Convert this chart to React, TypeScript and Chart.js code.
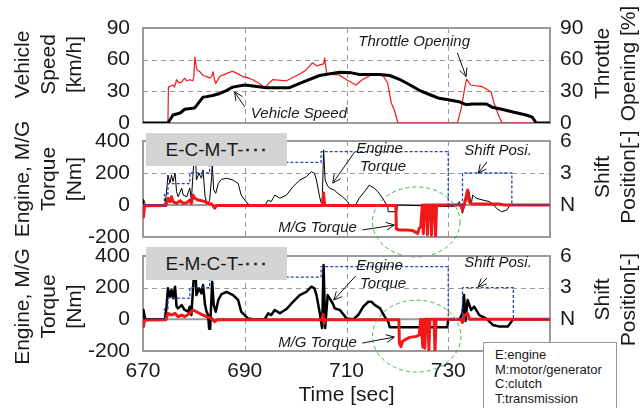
import React, { useEffect, useRef } from 'react';
import { Chart, registerables } from 'chart.js';

Chart.register(...registerables);

type P = [number, number];

// ---------- axis ticks ----------
const timeTicks = [670, 690, 710, 730, 750];
const timeTickLabels = ['670', '690', '710', '730', ''];
const speedTicks = [0, 30, 60, 90];
const throttleTicks = [0, 30, 60, 90];
const torqueTicks = [-200, 0, 200, 400];
const shiftTicks = [0, 3, 6];
const shiftTickLabels = ['N', '3', '6'];

// ---------- top panel ----------
const vehicleSpeed: P[] = [
  [670, 0], [674.9, 0], [675.9, 7.6], [677.3, 9.5], [678.2, 13], [679.8, 14], [680.2, 14.5],
  [681.8, 24.5], [682.5, 25], [683.7, 26], [685.1, 28], [686.5, 31], [687.6, 34], [690, 36],
  [691.6, 35], [694.3, 33.5], [698.8, 33.5], [700.8, 37.5], [704.7, 45], [708.6, 48], [711, 47.5],
  [712.5, 46], [716.5, 46], [718.5, 45], [720.4, 41.4], [722.5, 36], [724.3, 31], [726.3, 27],
  [728.2, 23.4], [730, 22], [732.1, 20.2], [733.5, 17.5], [735, 18], [737.5, 18], [738.6, 15],
  [740.5, 13], [742.5, 10.7], [745.3, 7.6], [746.5, 5.5], [747.3, 0], [750, 0],
];

const throttleOpening: P[] = [
  [670, 0], [674.9, 0], [675.0, 34], [675.5, 35], [675.9, 36], [676.2, 34], [676.6, 41], [677.1, 38],
  [677.6, 39], [678.2, 42.5], [678.6, 40], [679.2, 41], [679.8, 40], [680.0, 45], [680.2, 62.5],
  [680.5, 52], [680.7, 50], [681.2, 48.5], [681.8, 45], [682.5, 44], [683.1, 42.5], [683.5, 44],
  [683.8, 48.5], [684.1, 40], [684.3, 37.5], [685.1, 44], [686.5, 47], [687.6, 49], [688.5, 47],
  [689.6, 44], [690.5, 43], [691.6, 41], [693, 37], [694, 33.5], [694.8, 38], [695.5, 41],
  [698.2, 40], [700.8, 46.5], [702, 50], [703.3, 57], [704.2, 54], [704.7, 55], [705.5, 56],
  [705.7, 61.5], [706.1, 47], [707, 46], [708.6, 45.5], [710, 41], [711.9, 36], [713.1, 41],
  [715.2, 46.4], [717.1, 45.5], [718.1, 37.6], [718.8, 19], [719.4, 12.3], [720.1, 0],
  [731.8, 0], [732.6, 15], [733.3, 35], [733.6, 41.5], [734.4, 36], [736.7, 34.4], [738.4, 29.7],
  [739, 19], [740, 6], [740.6, 0], [750, 0],
];

// ---------- E-C-M-T panel ----------
const engineTorqueECMT: P[] = [
  [670, 0], [670.1, 35], [670.3, 20], [670.5, 0], [674.3, 0], [674.6, 73], [674.9, 187], [675.3, 137],
  [675.6, 187], [675.9, 146], [676.3, 200], [676.6, 83], [676.9, 52], [677.6, 106], [677.9, 62],
  [678.6, 52], [679.2, 106], [679.5, 31], [679.8, 177], [680.1, 330], [680.3, 340], [680.5, 156],
  [681, 198], [681.5, 167], [681.8, 219], [682.2, 52], [682.5, 21], [682.8, 10], [683.1, 31],
  [683.5, 177], [683.6, 260], [683.9, 94], [684.3, 73], [684.8, 135], [685.4, 160], [686.4, 167],
  [687.7, 156], [688.7, 135], [689.3, 62], [690, 31], [690.6, 6], [691.6, 0], [693, -10],
  [693.9, -6], [694.6, 31], [695.2, 21], [695.9, 62], [696.9, 42], [698.2, 62], [699.5, 115],
  [700.8, 156], [702.1, 177], [703.1, 208], [703.7, 198], [704.1, 156], [704.7, 52], [705.2, -6],
  [705.5, 345], [705.8, 156], [706.2, 125], [706.7, 104], [707.6, 94], [708.2, 75], [709.2, 52],
  [710.2, 21], [710.6, 0], [711.6, -10], [712.5, 42], [713.8, 94], [714.5, 125], [714.8, 118],
  [715.5, 104], [716.2, 83], [717.1, 42], [717.8, 6], [718.1, -6], [718.2, -42], [719.9, -42],
  [720, 0], [730.5, -10], [731.5, -5], [732.2, 21], [732.8, -52], [733.5, 31], [734.1, 83],
  [734.5, 0], [734.8, 62], [735.5, 42], [736.8, 31], [738.1, 21], [738.8, 6], [739.5, -21],
  [740.5, -42], [741.5, -31], [742.2, 0], [750, 0],
];

const mgTorqueECMT: P[] = [
  [670, -5], [670.1, -75], [670.3, -5], [674.5, -3], [674.9, 42], [675.3, 21], [675.6, 52],
  [675.9, 21], [676.6, 10], [677.3, 27], [677.9, 10], [678.6, 15], [679.2, 31], [679.5, 10],
  [679.8, 62], [680.2, 42], [680.8, 31], [681.5, 27], [682.2, 21], [682.8, 10], [683.5, 6],
  [684.1, -19], [684.5, -3], [705.3, -3], [705.5, 75], [705.7, -3], [719.7, -3], [719.8, -150],
  [720.4, -156], [721.7, -156], [723, -160], [724, -177], [724.3, -146], [724.6, -135],
  [724.9, 0], [725.1, -180], [725.3, 0], [725.7, 0], [725.9, -185], [726.1, 0], [726.5, 0],
  [726.7, -190], [726.9, 0], [727.3, 0], [727.5, -200], [727.7, 0],
  [732.5, 0], [732.8, -31], [733.3, 20], [733.8, 94], [734.1, 21], [734.6, 6],
  [740, 6], [741, 0], [750, 0],
];

const shiftPosECMT: P[] = [
  [670, 0], [674.2, 0], [674.2, 1], [674.9, 1], [674.9, 2], [679.2, 2], [679.2, 3], [683.1, 3],
  [683.1, 4], [705, 4], [705, 5], [730, 5], [730, 0], [732.8, 0], [732.8, 3], [742.5, 3],
  [742.5, 0], [750, 0],
];

// ---------- E-M-C-T panel ----------
const engineTorqueEMCT: P[] = [
  [670, 0], [670.1, 59], [670.3, 20], [670.5, 0], [674.3, 0], [674.6, 69], [674.9, 196], [675.3, 143],
  [675.6, 185], [675.9, 133], [676.3, 206], [676.6, 80], [676.9, 69], [677.6, 90], [678.2, 59],
  [678.9, 48], [679.2, 80], [679.5, 27], [679.8, 174], [680.1, 330], [680.3, 343], [680.5, 153],
  [681, 196], [681.5, 164], [681.8, 217], [682.2, 90], [682.5, 48], [682.8, 27], [683.0, -60],
  [683.2, -60], [683.4, 100], [683.6, 238], [683.9, 90], [684.3, 48], [684.8, 122], [685.4, 158],
  [686.4, 174], [687.7, 153], [688.7, 122], [689.3, 48], [690, 27], [690.6, 6], [691.6, 0],
  [693.9, 0], [694.6, 38], [695.2, 27], [695.9, 59], [696.9, 38], [698.2, 65], [699.5, 111],
  [700.8, 153], [702.1, 174], [703.1, 206], [703.7, 196], [704.1, 153], [704.7, 48], [705.2, -55],
  [705.5, 343], [705.8, -55], [706.3, 153], [707.3, 100], [707.7, 69], [708.7, 59], [710, 6],
  [711.3, 0], [712.3, 27], [713.3, 80], [714.3, 111], [714.9, 111], [715.6, 90], [716.6, 69],
  [717.5, 17], [718.2, -15], [718.5, -50], [729.8, -50], [730, 0], [732.2, 0], [732.8, 38],
  [733.1, 153], [733.4, -10], [733.8, 122], [734.5, 59], [735.1, 80], [736.1, 27], [737.4, 6],
  [738.1, -15], [738.8, -36], [740.1, -46], [741.7, -46], [742.4, -15], [742.7, 0], [750, 0],
];

const mgTorqueEMCT: P[] = [
  [670, -5], [670.1, -46], [670.3, -5], [674.5, -3], [674.9, 38], [675.6, 27], [676.3, 38],
  [676.9, 17], [677.6, 27], [678.2, 17], [679.2, 38], [679.8, 59], [680.5, 48], [681.5, 31],
  [682.5, 17], [683.5, 6], [684.1, -15], [684.5, -3], [705.2, -3], [705.4, 30], [705.6, -25],
  [705.8, -3], [720.3, -3], [720.4, -152], [720.7, -173], [721, -140], [721.4, -131],
  [722.4, -114], [723.7, -108], [724.3, -99], [724.6, 0], [725.0, -175], [725.2, 0],
  [725.4, -183], [725.6, 0], [726.0, 0], [726.2, -194], [726.4, 0], [727.2, 0], [727.4, -205],
  [727.6, 0], [732.5, 0], [732.8, -20], [733.2, 25], [733.8, 38], [734.2, 0], [750, 0],
];

const shiftPosEMCT: P[] = [
  [670, 0], [674.2, 0], [674.2, 1], [674.9, 1], [674.9, 2], [679.2, 2], [679.2, 3], [683.1, 3],
  [683.1, 4], [705, 4], [705, 5], [730, 5], [730, 0], [732.8, 0], [732.8, 3], [742.8, 3],
  [742.8, 0], [750, 0],
];

const legendLines = ['E:engine', 'M:motor/generator', 'C:clutch', 'T:transmission'];

// ---------- styling ----------
const FONT = "'Liberation Sans', Arial, Helvetica, sans-serif";
const TXT = '#1a1a1a';
const RED = '#f01818';
const BLUE = '#2448b0';
const GRID = '#9a9a9a';
const W = 641;
const H = 408;

const pts = (a: P[]) => a.map(([x, y]) => ({ x, y }));

type Note =
  | { kind: 'text'; t: number; v: number; text: string; align?: CanvasTextAlign }
  | { kind: 'arrow'; t1: number; v1: number; t2: number; v2: number }
  | { kind: 'ellipse'; t: number; v: number; rt: number; rv: number };

interface Decor {
  leftTitle: string[];
  leftShift: number;
  rightTitle: string[];
  rightShift: number;
  notes: Note[];
}

function drawRotatedLines(ctx: any, lines: string[], x0: number, step: number, cy: number) {
  ctx.save();
  ctx.font = `21px ${FONT}`;
  ctx.fillStyle = TXT;
  ctx.textAlign = 'center';
  ctx.textBaseline = 'middle';
  lines.forEach((line, i) => {
    ctx.save();
    ctx.translate(x0 + i * step, cy);
    ctx.rotate(-Math.PI / 2);
    ctx.fillText(line, 0, 0);
    ctx.restore();
  });
  ctx.restore();
}

function decorPlugin(d: Decor) {
  return {
    id: 'decor',
    beforeDatasetsDraw(chart: any) {
      const { ctx, chartArea: a } = chart;
      const xs = chart.scales.x;
      const ys = chart.scales.y;
      ctx.save();
      ctx.strokeStyle = GRID;
      ctx.lineWidth = 1;
      ctx.setLineDash([5, 4]);
      ctx.beginPath();
      for (const t of xs.ticks) {
        const x = Math.round(xs.getPixelForValue(t.value)) + 0.5;
        if (x <= a.left + 2 || x >= a.right - 2) continue;
        ctx.moveTo(x, a.top);
        ctx.lineTo(x, a.bottom);
      }
      for (const t of ys.ticks) {
        const y = Math.round(ys.getPixelForValue(t.value)) + 0.5;
        if (y <= a.top + 2 || y >= a.bottom - 2) continue;
        ctx.moveTo(a.left, y);
        ctx.lineTo(a.right, y);
      }
      ctx.stroke();
      ctx.strokeStyle = GRID;
      ctx.lineWidth = 2;
      ctx.setLineDash([]);
      ctx.strokeRect(a.left, a.top, a.right - a.left, a.bottom - a.top);
      ctx.restore();
    },
    afterDatasetsDraw(chart: any) {
      const { ctx } = chart;
      const xs = chart.scales.x;
      const ys = chart.scales.y;
      const px = (t: number) => xs.getPixelForValue(t);
      const py = (v: number) => ys.getPixelForValue(v);
      ctx.save();
      for (const n of d.notes) {
        if (n.kind === 'text') {
          ctx.font = `italic 15px ${FONT}`;
          ctx.fillStyle = TXT;
          ctx.textAlign = n.align || 'center';
          ctx.textBaseline = 'middle';
          ctx.fillText(n.text, px(n.t), py(n.v));
        } else if (n.kind === 'arrow') {
          const x1 = px(n.t1), y1 = py(n.v1), x2 = px(n.t2), y2 = py(n.v2);
          ctx.strokeStyle = '#111';
          ctx.lineWidth = 1;
          ctx.setLineDash([]);
          ctx.beginPath();
          ctx.moveTo(x1, y1);
          ctx.lineTo(x2, y2);
          const ang = Math.atan2(y2 - y1, x2 - x1);
          const L = 9;
          for (const s of [-1, 1]) {
            ctx.moveTo(x2, y2);
            ctx.lineTo(x2 - L * Math.cos(ang + s * 0.45), y2 - L * Math.sin(ang + s * 0.45));
          }
          ctx.stroke();
        } else if (n.kind === 'ellipse') {
          const cx = px(n.t), cy = py(n.v);
          const rx = Math.abs(px(n.t + n.rt) - cx);
          const ry = Math.abs(py(n.v + n.rv) - cy);
          ctx.strokeStyle = '#3cb83c';
          ctx.lineWidth = 1;
          ctx.setLineDash([4, 3]);
          ctx.beginPath();
          ctx.ellipse(cx, cy, rx, ry, 0, 0, Math.PI * 2);
          ctx.stroke();
        }
      }
      ctx.restore();
    },
    afterDraw(chart: any) {
      const { ctx, chartArea: a } = chart;
      const mid = (a.top + a.bottom) / 2;
      drawRotatedLines(ctx, d.leftTitle, a.left - 119.5, 25.8, mid + d.leftShift);
      drawRotatedLines(ctx, d.rightTitle, a.right + 53, 26, mid + d.rightShift);
    },
  };
}

const tickFont = { family: FONT, size: 21 };

function xScale(showLabels: boolean) {
  return {
    type: 'linear',
    min: 670,
    max: 750,
    afterBuildTicks: (s: any) => {
      s.ticks = timeTicks.map((v) => ({ value: v }));
    },
    grid: { display: false, drawTicks: false },
    border: { display: false },
    ticks: {
      display: showLabels,
      color: TXT,
      font: tickFont,
      padding: 8,
      maxRotation: 0,
      autoSkip: false,
      callback: (v: any) => {
        const i = timeTicks.indexOf(Number(v));
        return i >= 0 ? timeTickLabels[i] : '';
      },
    },
    title: { display: showLabels, text: 'Time [sec]', color: TXT, font: tickFont, padding: 0 },
    afterFit: (s: any) => {
      s.height = showLabels ? 57 : 0;
    },
  };
}

function yLeft(min: number, max: number, ticks: number[]) {
  return {
    position: 'left',
    min,
    max,
    afterBuildTicks: (s: any) => {
      s.ticks = ticks.map((v) => ({ value: v }));
    },
    grid: { display: false, drawTicks: false },
    border: { display: false },
    ticks: { color: TXT, font: tickFont, padding: 13, autoSkip: false },
    afterFit: (s: any) => {
      s.width = 143;
    },
  };
}

function yRight(min: number, max: number, ticks: number[], labels?: string[]) {
  return {
    position: 'right',
    min,
    max,
    afterBuildTicks: (s: any) => {
      s.ticks = ticks.map((v) => ({ value: v }));
    },
    grid: { display: false, drawTicks: false },
    border: { display: false },
    ticks: {
      color: TXT,
      font: tickFont,
      padding: 10,
      autoSkip: false,
      callback: (v: any) => {
        const i = ticks.indexOf(Number(v));
        return labels && i >= 0 ? labels[i] : String(v);
      },
    },
    afterFit: (s: any) => {
      s.width = 91;
    },
  };
}

const lineDefaults = { pointRadius: 0, tension: 0, fill: false, borderJoinStyle: 'round' };

function baseOptions(padTop: number, padBottom: number, scales: any) {
  return {
    responsive: false,
    animation: false,
    events: [],
    layout: { padding: { top: padTop, bottom: padBottom, left: 0, right: 0 } },
    plugins: { legend: { display: false }, tooltip: { enabled: false } },
    scales,
  };
}

function speedConfig() {
  return {
    type: 'line',
    data: {
      datasets: [
        { ...lineDefaults, label: 'Vehicle Speed', data: pts(vehicleSpeed), borderColor: '#000', borderWidth: 3, yAxisID: 'y' },
        { ...lineDefaults, label: 'Throttle Opening', data: pts(throttleOpening), borderColor: RED, borderWidth: 1.2, yAxisID: 'y2' },
      ],
    },
    options: baseOptions(28, 285, {
      x: xScale(false),
      y: yLeft(0, 90, speedTicks),
      y2: yRight(0, 90, throttleTicks),
    }),
    plugins: [
      decorPlugin({
        leftTitle: ['Vehicle', 'Speed', '[km/h]'],
        leftShift: -11,
        rightTitle: ['Throttle', 'Opening [%]'],
        rightShift: -12,
        notes: [
          { kind: 'text', t: 723.3, v: 76.7, text: 'Throttle Opening' },
          { kind: 'arrow', t1: 731.8, v1: 66.3, t2: 733.5, v2: 44 },
          { kind: 'text', t: 691.2, v: 8.5, text: 'Vehicle Speed', align: 'left' },
          { kind: 'arrow', t1: 690, v1: 15.2, t2: 688, v2: 29.4 },
        ],
      }),
    ],
  };
}

function torqueConfig(
  engine: P[],
  mg: P[],
  shift: P[],
  engineWidth: number,
  padTop: number,
  padBottom: number,
  showX: boolean,
  leftShift: number,
  rightShift: number,
  notes: Note[],
) {
  return {
    type: 'line',
    data: {
      datasets: [
        { ...lineDefaults, label: 'Shift Position', data: pts(shift), borderColor: BLUE, borderWidth: 1.3, borderDash: [3, 2], yAxisID: 'y2' },
        { ...lineDefaults, label: 'M/G Torque', data: pts(mg), borderColor: RED, borderWidth: 3, yAxisID: 'y' },
        { ...lineDefaults, label: 'Engine Torque', data: pts(engine), borderColor: '#000', borderWidth: engineWidth, yAxisID: 'y' },
        { ...lineDefaults, label: 'zero', data: [{ x: 670, y: 0 }, { x: 750, y: 0 }], borderColor: GRID, borderWidth: 2, yAxisID: 'y' },
      ],
    },
    options: baseOptions(padTop, padBottom, {
      x: xScale(showX),
      y: yLeft(-200, 400, torqueTicks),
      y2: yRight(-3, 6, shiftTicks, shiftTickLabels),
    }),
    plugins: [
      decorPlugin({
        leftTitle: ['Engine, M/G', 'Torque', '[Nm]'],
        leftShift,
        rightTitle: ['Shift', 'Position[-]'],
        rightShift,
        notes,
      }),
    ],
  };
}

function ChartLayer({ build }: { build: () => any }) {
  const ref = useRef<HTMLCanvasElement>(null);
  useEffect(() => {
    if (!ref.current) return;
    const chart = new Chart(ref.current, build());
    return () => chart.destroy();
  }, [build]);
  return (
    <canvas
      ref={ref}
      width={W}
      height={H}
      style={{ position: 'absolute', left: 0, top: 0, width: W, height: H }}
    />
  );
}

const buildSpeed = () => speedConfig();
const buildECMT = () =>
  torqueConfig(engineTorqueECMT, mgTorqueECMT, shiftPosECMT, 1, 141, 171, false, -10, -12, [
    { kind: 'text', t: 716.5, v: 350, text: 'Engine' },
    { kind: 'text', t: 717.2, v: 237, text: 'Torque' },
    { kind: 'arrow', t1: 711.6, v1: 331, t2: 707.3, v2: 137 },
    { kind: 'text', t: 739.8, v: 337, text: 'Shift Posi.' },
    { kind: 'arrow', t1: 737.6, v1: 269, t2: 735.9, v2: 200 },
    { kind: 'text', t: 704.3, v: -144, text: 'M/G Torque' },
    { kind: 'arrow', t1: 713.1, v1: -156, t2: 719.4, v2: -125 },
    { kind: 'ellipse', t: 723.7, v: -106, rt: 8.6, rv: 219 },
  ]);
const buildEMCT = () =>
  torqueConfig(engineTorqueEMCT, mgTorqueEMCT, shiftPosEMCT, 2.5, 256, 0, true, 3, -4, [
    { kind: 'text', t: 716.5, v: 337, text: 'Engine' },
    { kind: 'text', t: 717.2, v: 223, text: 'Torque' },
    { kind: 'arrow', t1: 711.8, v1: 274, t2: 707.5, v2: 122 },
    { kind: 'text', t: 739.8, v: 356, text: 'Shift Posi.' },
    { kind: 'arrow', t1: 737.6, v1: 261, t2: 735.9, v2: 204 },
    { kind: 'text', t: 704.3, v: -150, text: 'M/G Torque' },
    { kind: 'arrow', t1: 713.1, v1: -150, t2: 719.4, v2: -112 },
    { kind: 'ellipse', t: 723.8, v: -106, rt: 8.7, rv: 227 },
  ]);

function SchemeLabel({ top, text }: { top: number; text: string }) {
  return (
    <div
      style={{
        position: 'absolute',
        left: 146,
        top,
        width: 141,
        height: 33,
        background: '#d4d4d4',
        display: 'flex',
        alignItems: 'center',
        justifyContent: 'center',
        fontFamily: FONT,
        fontSize: 19,
        color: TXT,
        whiteSpace: 'nowrap',
      }}
    >
      {text}
      <span style={{ fontSize: 14, fontWeight: 'bold', letterSpacing: 1 }}>･･･</span>
    </div>
  );
}

export default function App() {
  return (
    <div
      style={{
        position: 'fixed',
        left: 0,
        top: 0,
        width: W,
        height: H,
        overflow: 'hidden',
        background: '#fff',
      }}
    >
      <ChartLayer build={buildSpeed} />
      <ChartLayer build={buildECMT} />
      <ChartLayer build={buildEMCT} />
      <SchemeLabel top={133} text="E-C-M-T-" />
      <SchemeLabel top={247} text="E-M-C-T-" />
      <div
        style={{
          position: 'absolute',
          left: 483,
          top: 342,
          width: 134,
          height: 80,
          boxSizing: 'border-box',
          border: '1px solid #999',
          background: '#fff',
          padding: '5px 0 0 11px',
          fontFamily: FONT,
          fontSize: 13,
          lineHeight: '14.6px',
          color: TXT,
        }}
      >
        {legendLines.map((l) => (
          <div key={l}>{l}</div>
        ))}
      </div>
    </div>
  );
}
